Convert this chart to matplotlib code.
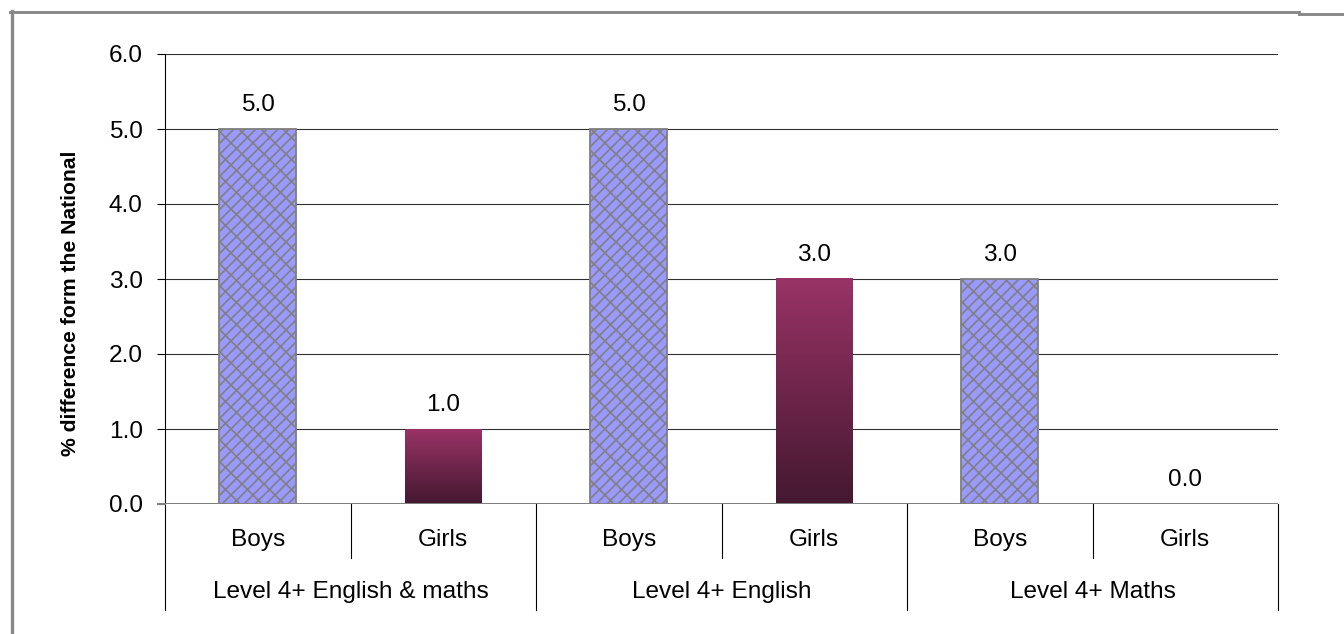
import numpy as np
import matplotlib
matplotlib.use('Agg')
import matplotlib.pyplot as plt
from matplotlib.colors import LinearSegmentedColormap
from matplotlib.lines import Line2D
from matplotlib.transforms import blended_transform_factory

plt.rcParams['font.family'] = ['Liberation Sans', 'DejaVu Sans']
plt.rcParams['hatch.color'] = '#808080'
plt.rcParams['hatch.linewidth'] = 0.9

# data
groups = ['Level 4+ English & maths', 'Level 4+ English', 'Level 4+ Maths']
genders = ['Boys', 'Girls']
boys = [5.0, 5.0, 3.0]
girls = [1.0, 3.0, 0.0]

W, H, DPI = 1344, 634, 132
fig = plt.figure(figsize=(W / DPI, H / DPI), dpi=DPI)
ax = fig.add_axes([165 / W, 1 - 504 / H, (1278 - 165) / W, (504 - 54) / H])

fs = 13.3
bw = 0.415
girl_cmap = LinearSegmentedColormap.from_list('girls', ['#441830', '#993366'])
grad = np.linspace(0, 1, 256).reshape(-1, 1)

for i, (b, g) in enumerate(zip(boys, girls)):
    xb = 2 * i
    xg = 2 * i + 1
    ax.bar(xb, b, width=bw, color='#9999FF', edgecolor='#808080',
           linewidth=1.0, hatch='////\\\\', zorder=3)
    if g > 0:
        ax.imshow(grad, cmap=girl_cmap, origin='lower', aspect='auto',
                  extent=[xg - bw / 2, xg + bw / 2, 0, g], zorder=3,
                  interpolation='bilinear')
    for x, v in ((xb, b), (xg, g)):
        ax.annotate(f'{v:.1f}', (x, v), xytext=(0, 13), textcoords='offset points',
                    ha='center', va='center', fontsize=fs, color='black')

ax.set_xlim(-0.5, 5.5)
ax.set_ylim(0, 6)
ax.set_yticks(np.arange(0, 7, 1.0))
ax.set_yticklabels([f'{t:.1f}' for t in np.arange(0, 7, 1.0)], fontsize=fs)
ax.tick_params(axis='y', length=4.6, width=0.6, pad=7.5, color='black')
ax.set_xticks([])
for y in range(1, 7):
    ax.axhline(y, color='#303030', linewidth=0.6, zorder=1)
ax.axhline(0, color='#808080', linewidth=1.1, zorder=4)
ax.plot([-0.5 - 0.04, -0.5], [0, 0], color='#808080', linewidth=1.1,
        clip_on=False, zorder=4)

for s in ('top', 'right', 'bottom'):
    ax.spines[s].set_visible(False)
ax.spines['left'].set_linewidth(0.6)
ax.spines['left'].set_color('black')

ax.set_ylabel('% difference form the National', fontsize=11.5, fontweight='bold')
ax.yaxis.set_label_coords(-(165 - 80) / (1278 - 165), (504 - 303) / 450)

# category axis labels and separators
tr = blended_transform_factory(ax.transData, ax.transAxes)
for i, grp in enumerate(groups):
    for j, gender in enumerate(genders):
        ax.text(2 * i + j, -36 / 450, gender, transform=tr, ha='center',
                va='center', fontsize=fs)
    ax.text(2 * i + 0.5, -88 / 450, grp, transform=tr, ha='center',
            va='center', fontsize=fs)
    ax.add_line(Line2D([2 * i + 0.5] * 2, [0, -54 / 450], transform=tr,
                       color='black', linewidth=0.6, clip_on=False))
for k in range(4):
    ax.add_line(Line2D([2 * k - 0.5] * 2, [0, -106 / 450], transform=tr,
                       color='black', linewidth=0.6, clip_on=False))

# chart border
fig.add_artist(Line2D([10 / W, 1299 / W], [1 - 12 / H] * 2, color='#888888', linewidth=1.6))
fig.add_artist(Line2D([1299 / W, 1], [1 - 13.5 / H] * 2, color='#888888', linewidth=1.6))
fig.add_artist(Line2D([11.5 / W] * 2, [1 - 11 / H, 0], color='#888888', linewidth=1.8))

fig.savefig('out.png', dpi=DPI)
